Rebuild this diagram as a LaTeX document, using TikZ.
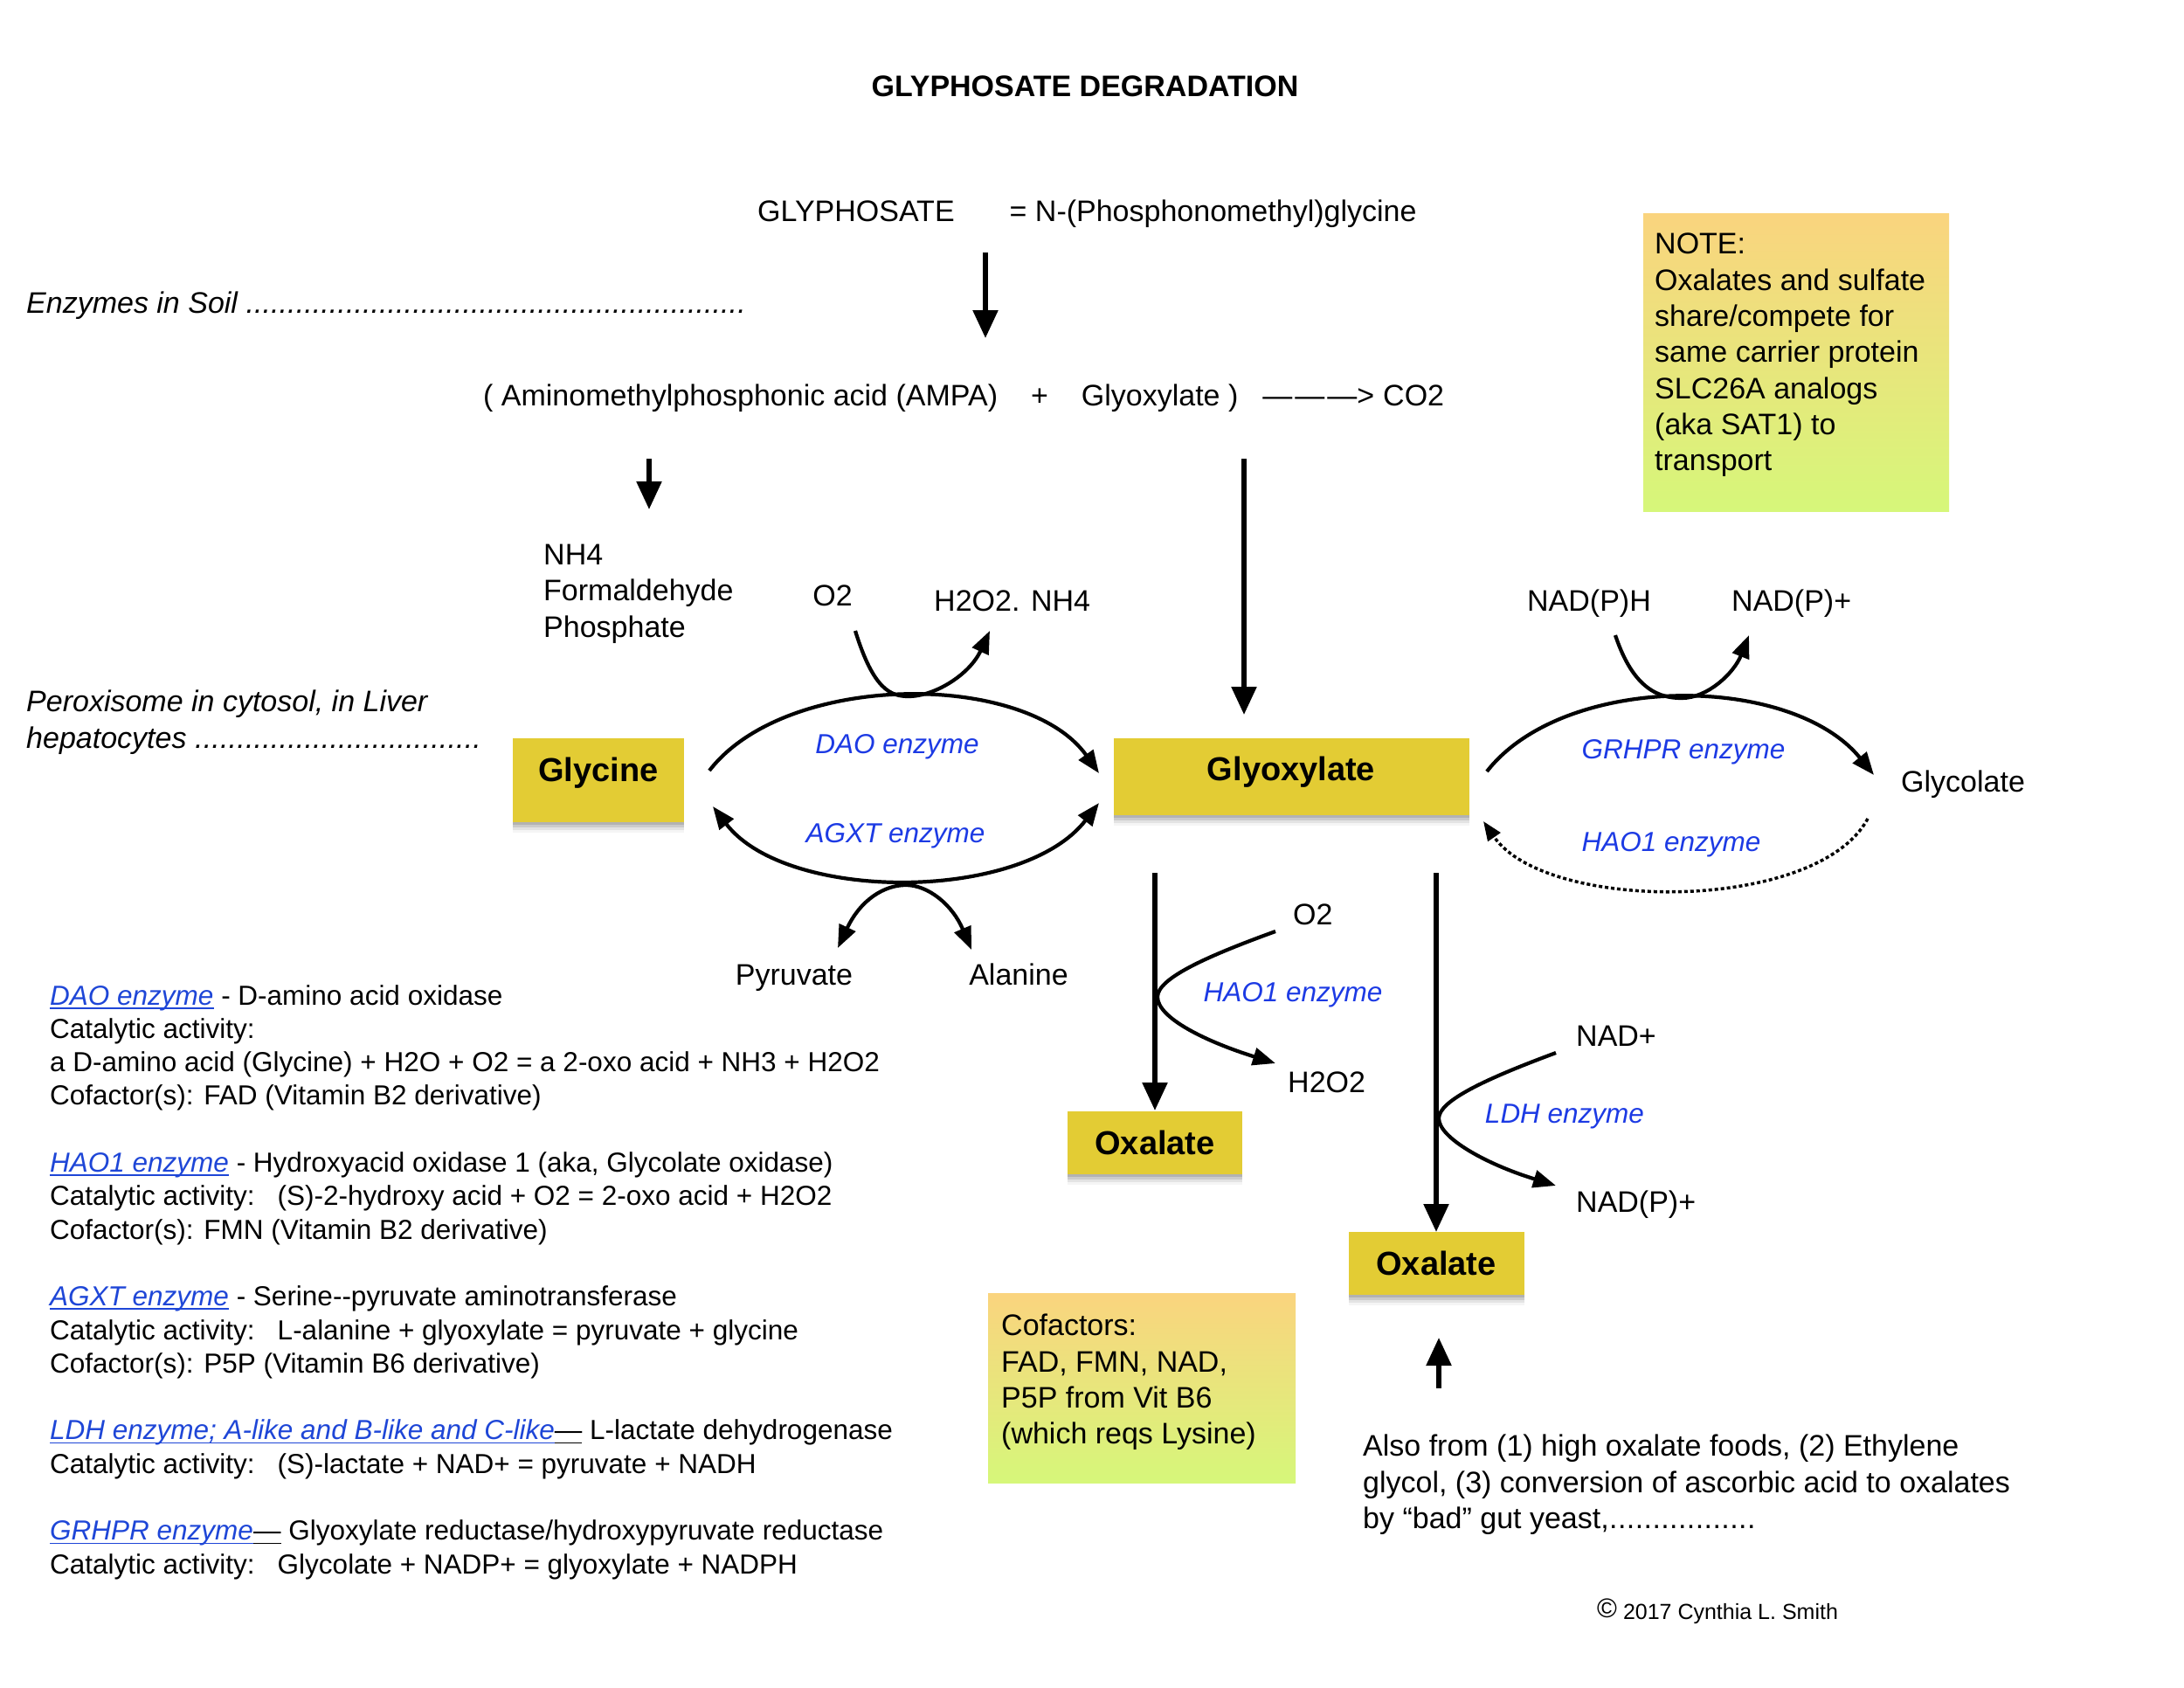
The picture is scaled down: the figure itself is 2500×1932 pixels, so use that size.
\documentclass[tikz,border=0pt]{standalone}
\usepackage{fontspec}
\setmainfont{Liberation Sans}
\usetikzlibrary{arrows.meta,shadows}
\definecolor{yboxc}{RGB}{227,204,52}
\definecolor{enzblue}{RGB}{28,58,228}
\definecolor{linkblue}{RGB}{30,70,215}
\definecolor{notetop}{RGB}{250,212,126}
\definecolor{notebot}{RGB}{214,247,122}
\newcommand\mainsz{\fontsize{34}{41.3}\selectfont}
\newcommand\smsz{\fontsize{31.5}{38.3}\selectfont}
\newcommand\boxsz{\fontsize{38}{44}\selectfont}
\newcommand\dotrun[1]{\hbox to #1{\xleaders\hbox{.}\hfill}}
\newsavebox\ulbox
\newcommand\ulk[1]{{\sbox\ulbox{#1}\rlap{\rule[-4.5pt]{\wd\ulbox}{1.8pt}}\usebox\ulbox}}
\newcommand\lnk[1]{\textcolor{linkblue}{\itshape\ulk{#1}}}
\begin{document}
\begin{tikzpicture}[x=1pt,y=-1pt,
  every node/.style={inner sep=0pt, font=\mainsz},
  ybox/.style={fill=yboxc, font=\bfseries\boxsz,
    drop shadow={shadow xshift=0pt,shadow yshift=-3pt,opacity=0.12,fill=black},
    drop shadow={shadow xshift=0pt,shadow yshift=-6pt,opacity=0.10,fill=black},
    drop shadow={shadow xshift=0pt,shadow yshift=-9pt,opacity=0.07,fill=black},
    drop shadow={shadow xshift=0pt,shadow yshift=-12pt,opacity=0.04,fill=black}},
  gbox/.style={top color=notetop, bottom color=notebot, draw=none},
  enz/.style={font=\smsz\itshape, text=enzblue},
  bigarr/.style={line width=5.5pt, -{Triangle[length=32pt,width=28pt]}},
  carr/.style={line width=4.2pt, -{Triangle[length=26pt,width=20pt]}},
  carr2/.style={line width=4.2pt, {Triangle[length=26pt,width=20pt]}-{Triangle[length=26pt,width=20pt]}},
  dotarr/.style={line width=3.5pt, dash pattern=on 4pt off 3pt, -{Triangle[length=22pt,width=17pt]}},
]
\path[fill=white] (0,0) rectangle (2500,1932);
\useasboundingbox (0,0) rectangle (2500,1932);

% top texts
\node[font=\bfseries\mainsz, anchor=base] (title) at (1242,111) {GLYPHOSATE DEGRADATION};
\node[anchor=base west] (glyph) at (867,253) {GLYPHOSATE\hspace{63pt}= N-(Phosphonomethyl)glycine};
\node[anchor=base west, font=\mainsz\itshape] (soil) at (30,358) {Enzymes in Soil \dotrun{572pt}};
\node[anchor=base west] (ampa) at (553,464) {( Aminomethylphosphonic acid (AMPA)\hspace{38pt}+\hspace{38pt}Glyoxylate )\hspace{28pt}—\hspace{3pt}—\hspace{3pt}—>\hspace{10pt}CO2};
\node[anchor=north west, align=left] (byprod) at (622,623) {NH4\\Formaldehyde\\Phosphate};
\node[anchor=base] (o2a) at (953,693) {O2};
\node[anchor=base west] (h2o2a) at (1069,699) {H2O2. NH4};
\node[anchor=base] (nadph) at (1819,699) {NAD(P)H};
\node[anchor=base west] (nadpa) at (1982,699) {NAD(P)+};
\node[anchor=north west, align=left, font=\mainsz\itshape] (perox) at (30,790) {Peroxisome in cytosol, in Liver\\hepatocytes \dotrun{328pt}};

% boxes
\node[ybox, minimum width=196pt, minimum height=96pt, text depth=24pt] (gly) at (685,893) {Glycine};
\node[ybox, minimum width=407pt, minimum height=88pt, text depth=18pt] (glx) at (1478,889) {Glyoxylate};
\node[ybox, minimum width=200pt, minimum height=72pt] (ox1) at (1322,1308) {Oxalate};
\node[ybox, minimum width=201pt, minimum height=72pt] (ox2) at (1644,1446) {Oxalate};

% labels
\node[enz] (dao) at (1027,855) {DAO enzyme};
\node[enz] (agxt) at (1025,957) {AGXT enzyme};
\node[anchor=base west] (glc) at (2176,906) {Glycolate};
\node[enz] (grhpr) at (1927,861) {GRHPR enzyme};
\node[enz] (hao1a) at (1913,967) {HAO1 enzyme};
\node[anchor=base] (pyr) at (909,1127) {Pyruvate};
\node[anchor=base] (ala) at (1166,1127) {Alanine};
\node[anchor=base west] (o2b) at (1480,1058) {O2};
\node[anchor=base west] (h2o2b) at (1474,1250) {H2O2};
\node[enz] (hao1b) at (1480,1139) {HAO1 enzyme};
\node[anchor=base west] (nadp) at (1804,1197) {NAD+};
\node[anchor=base west] (nadpb) at (1804,1387) {NAD(P)+};
\node[enz] (ldh) at (1791,1278) {LDH enzyme};

% note boxes
\node[gbox, minimum width=350pt, minimum height=341pt] (note) at (2056,414.5) {};
\node[anchor=north west, align=left] (notetext) at (1894,267) {NOTE:\\Oxalates and sulfate\\share/compete for\\same carrier protein\\SLC26A analogs\\(aka SAT1) to\\transport};
\node[gbox, minimum width=352pt, minimum height=217pt] (cof) at (1307,1588.5) {};
\node[anchor=north west, align=left] (coftext) at (1146,1504) {Cofactors:\\FAD, FMN, NAD,\\P5P from Vit B6\\(which reqs Lysine)};
\node[anchor=north west, align=left] (also) at (1560,1642) {Also from (1) high oxalate foods, (2) Ethylene\\glycol, (3) conversion of ascorbic acid to oxalates\\by “bad” gut yeast,\dotrun{168pt}};
\node[anchor=base west, font=\fontsize{25}{30}\selectfont] (copy) at (1828,1853) {{\fontsize{31}{31}\selectfont\raisebox{2pt}{©}} 2017 Cynthia L. Smith};

% legend
\node[anchor=north west, align=left, font=\smsz] (legend) at (57,1127) {%
\lnk{DAO enzyme} - D-amino acid oxidase\\
Catalytic activity:\\
a D-amino acid (Glycine) + H2O + O2 = a 2-oxo acid + NH3 + H2O2\\
Cofactor(s): FAD (Vitamin B2 derivative)\\[38.3pt]
\lnk{HAO1 enzyme} - Hydroxyacid oxidase 1 (aka, Glycolate oxidase)\\
Catalytic activity:\hspace{26pt}(S)-2-hydroxy acid + O2 = 2-oxo acid + H2O2\\
Cofactor(s): FMN (Vitamin B2 derivative)\\[38.3pt]
\lnk{AGXT enzyme} - Serine-{}-pyruvate aminotransferase\\
Catalytic activity:\hspace{26pt}L-alanine + glyoxylate = pyruvate + glycine\\
Cofactor(s): P5P (Vitamin B6 derivative)\\[38.3pt]
\lnk{LDH enzyme; A-like and B-like and C-like}\ulk{—} L-lactate dehydrogenase\\
Catalytic activity:\hspace{26pt}(S)-lactate + NAD+ = pyruvate + NADH\\[38.3pt]
\lnk{GRHPR enzyme}\ulk{—} Glyoxylate reductase/hydroxypyruvate reductase\\
Catalytic activity:\hspace{26pt}Glycolate + NADP+ = glyoxylate + NADPH};

% coordinates
\coordinate (a1s) at (1128,289); \coordinate (a1e) at (1128,387);
\coordinate (a2s) at (743,525);  \coordinate (a2e) at (743,583);
\coordinate (a3s) at (1424,525); \coordinate (a3e) at (1424,818);
\coordinate (v1s) at (1322,999); \coordinate (v1e) at (1322,1271);
\coordinate (v2s) at (1644,999); \coordinate (v2e) at (1644,1410);
\coordinate (ups) at (1647,1589); \coordinate (upe) at (1647,1531);

% straight arrows
\draw[bigarr] (a1s) -- (a1e);
\draw[bigarr] (a2s) -- (a2e);
\draw[bigarr] (a3s) -- (a3e);
\draw[bigarr] (v1s) -- (v1e);
\draw[bigarr] (v2s) -- (v2e);
\draw[bigarr] (ups) -- (upe);

% DAO / AGXT
\coordinate (daos) at (812,882); \coordinate (daoe) at (1258,885);
\draw[carr] (daos) .. controls (900,768) and (1175,768) .. (daoe);
\coordinate (dsa) at (979,722); \coordinate (dsb) at (1133,722);
\draw[carr] (dsa) .. controls (1000,790) and (1020,797) .. (1040,797) .. controls (1070,797) and (1110,772) .. (dsb);
\coordinate (agl) at (816,923); \coordinate (agr) at (1258,919);
\draw[carr2] (agl) .. controls (900,1033) and (1170,1033) .. (agr);
\coordinate (ppl) at (959,1085); \coordinate (ppr) at (1112,1087);
\draw[carr2] (ppl) .. controls (985,1030) and (1012,1013) .. (1037,1013) .. controls (1062,1013) and (1090,1035) .. (ppr);

% GRHPR / HAO1
\coordinate (grs) at (1702,883); \coordinate (gre) at (2145,887);
\draw[carr] (grs) .. controls (1790,770) and (2050,770) .. (gre);
\coordinate (gsa) at (1849,727); \coordinate (gsb) at (2002,727);
\draw[carr] (gsa) .. controls (1870,790) and (1900,799) .. (1925,799) .. controls (1955,799) and (1985,770) .. (gsb);
\coordinate (hds) at (2138,937); \coordinate (hde) at (1698,940);
\draw[dotarr] (hds) .. controls (2080,1045) and (1770,1045) .. (hde);

% side reactions
\coordinate (hs) at (1460,1066); \coordinate (he) at (1460,1217);
\draw[carr] (hs) .. controls (1380,1095) and (1325,1120) .. (1325,1141) .. controls (1325,1165) and (1380,1192) .. (he);
\coordinate (ls) at (1781,1205); \coordinate (le) at (1781,1357);
\draw[carr] (ls) .. controls (1700,1235) and (1647,1260) .. (1647,1280) .. controls (1647,1302) and (1700,1332) .. (le);
\end{tikzpicture}
\end{document}
